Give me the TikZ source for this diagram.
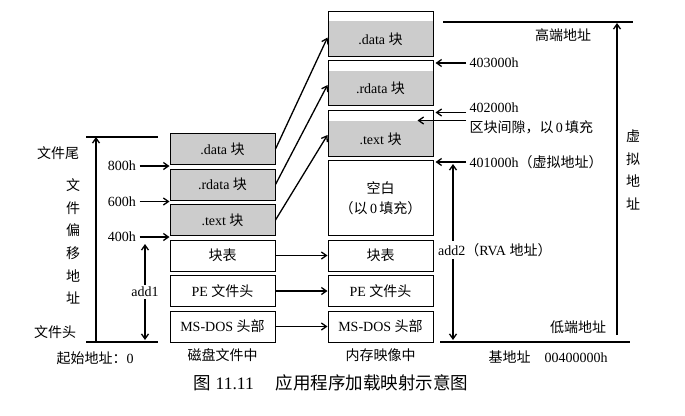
\documentclass[tikz,border=0pt]{standalone}
\usepackage{fontspec}
\setmainfont{Liberation Serif}
\newfontfamily\zh{Noto Sans CJK SC}
\usepackage{tikz}
\usetikzlibrary{positioning,arrows.meta}

\begin{document}
\begin{tikzpicture}[
    x=1pt, y=-1pt,
    font=\fontsize{14}{16}\selectfont,
    node distance=3.5pt,
    box/.style={
        draw,
        line width=1pt,
        rectangle,
        minimum width=105pt,
        minimum height=31pt,
        inner sep=0pt,
        align=center
    },
    filesec/.style={box, fill=gray!40},
    memsec/.style={box, path picture={
        \fill[gray!40] (path picture bounding box.south west)
            rectangle ([yshift=35pt]path picture bounding box.south east);}},
    arrow/.style={-{Straight Barb[length=5pt,width=7pt]}, line width=1.3pt},
    twoway/.style={{Straight Barb[length=5pt,width=7pt]}-{Straight Barb[length=5pt,width=7pt]}, line width=1.3pt},
    bound/.style={line width=2.2pt},
    vtext/.style={align=center, font=\fontsize{14}{22.6}\selectfont\zh}
]
\useasboundingbox[fill=white] (0,0) rectangle (685,415);

% file on disk
\node[box] (fdos) at (222.5,326.5) {MS-DOS {\zh 头部}};
\node[box, above=of fdos] (fpe) {PE {\zh 文件头}};
\node[box, above=of fpe] (ftab) {{\zh 块表}};
\node[filesec, above=of ftab] (ftext) {.text {\zh 块}};
\node[filesec, above=of ftext] (frdata) {.rdata {\zh 块}};
\node[filesec, above=of frdata] (fdata) {.data {\zh 块}};
\node[below=3pt of fdos] (fcap) {\zh 磁盘文件中};

% image in memory
\node[box] (mdos) at (380.5,326.5) {MS-DOS {\zh 头部}};
\node[box, above=of mdos] (mpe) {PE {\zh 文件头}};
\node[box, above=of mpe] (mtab) {{\zh 块表}};
\node[box, minimum height=75pt, above=of mtab] (mfree)
    {{\zh 空白}\\[4pt]{\zh （以}\,0\,{\zh 填充）}};
\node[memsec, minimum height=46pt, above=of mfree] (mtext) {};
\node[memsec, minimum height=45pt, above=of mtext] (mrdata) {};
\node[memsec, minimum height=45pt, above=of mrdata] (mdata) {};
\node (ltext) at ([yshift=17.5pt]mtext.south) {.text {\zh 块}};
\node (lrdata) at ([yshift=17.5pt]mrdata.south) {.rdata {\zh 块}};
\node (ldata) at ([yshift=17.5pt]mdata.south) {.data {\zh 块}};
\node[below=3pt of mdos] (mcap) {\zh 内存映像中};

% mapping
\draw[arrow] (fdata.east) -- ([yshift=-4pt]mdata.west);
\draw[arrow] (frdata.east) -- ([yshift=-2pt]mrdata.west);
\draw[arrow] (ftext.east) -- ([yshift=-2pt]mtext.west);
\draw[arrow] (ftab) -- (mtab);
\draw[arrow] (fpe) -- (mpe);
\draw[arrow] (fdos) -- (mdos);

% file offsets
\draw[bound] (86,137) -- (158,137);
\draw[bound] (86,342) -- (158,342);
\coordinate (ftop) at (96,137);
\coordinate (fbot) at (96,341);
\draw[arrow] (fbot) -- (ftop);
\node (fend) at (58,153) {\zh 文件尾};
\node[vtext] (foff) at (73,241.5) {文\\件\\偏\\移\\地\\址};
\node (fhead) at (55,332) {\zh 文件头};
\node (fstart) at (95,358) {{\zh 起始地址：}0};
\node[anchor=east] (o800) at ([xshift=-30pt,yshift=-1pt]fdata.south west) {800h};
\node[anchor=east] (o600) at ([xshift=-30pt,yshift=-1pt]frdata.south west) {600h};
\node[anchor=east] (o400) at ([xshift=-30pt,yshift=-1pt]ftext.south west) {400h};
\draw[arrow] (o800) -- (o800 -| fdata.west);
\draw[arrow] (o600) -- (o600 -| frdata.west);
\draw[arrow] (o400) -- (o400 -| ftext.west);
\coordinate (a1top) at (145,244);
\coordinate (a1bot) at (145,340);
\draw[twoway] (a1top) -- node[fill=white, inner sep=2pt] (add1) {add1} (a1bot);

% virtual addresses
\draw[bound] (443,22) -- (633,22);
\draw[bound] (440,342) -- (630,342);
\coordinate (vtop) at (617,23);
\coordinate (vbot) at (617,335);
\draw[arrow] (vbot) -- (vtop);
\node (high) at (563,35) {\zh 高端地址};
\node (low) at (578,327) {\zh 低端地址};
\node[vtext] (vaddr) at (633,170) {虚\\拟\\地\\址};
\node (base) at (548,357) {{\zh 基地址}\quad 00400000h};

\node[anchor=west] (a403) at (466,63) {403000h};
\draw[arrow] (a403) -- ([xshift=2pt]a403 -| mdata.east);
\coordinate (p402) at (466,112.5);
\node[anchor=west] (a402) at (466,107.5) {402000h};
\draw[arrow] (p402) -- ([xshift=2pt]p402 -| mtext.east);
\node[anchor=west] (gap) at (466,127.5) {{\zh 区块间隙，以}\,0\,{\zh 填充}};
\coordinate (gapend) at ([xshift=-16pt,yshift=-11pt]mtext.north east);
\draw[arrow] (gap.west |- gapend) -- (gapend);
\node[anchor=west] (a401) at (466,162) {401000h{\zh （虚拟地址）}};
\draw[arrow] (a401) -- ([xshift=2pt]a401 -| mtext.east);
\coordinate (a2top) at (453,164);
\coordinate (a2bot) at (453,340);
\draw[twoway] (a2top) -- (a2bot);
\node[anchor=west, fill=white, inner sep=2pt] (add2) at (436,250) {add2{\zh （}RVA {\zh 地址）}};

% caption
\node (cap) at (331,383) {\fontsize{17.5}{20}\selectfont{\zh 图}\ 11.11\quad\ {\zh 应用程序加载映射示意图}};
\end{tikzpicture}
\end{document}
